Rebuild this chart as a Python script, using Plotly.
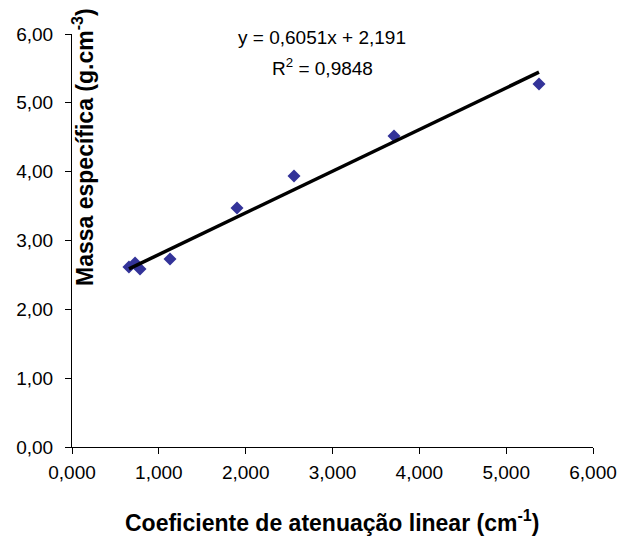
import plotly.graph_objects as go

x_vals = [0.656, 0.726, 0.783, 1.129, 1.900, 2.557, 3.708, 5.378]
y_vals = [2.615, 2.673, 2.586, 2.731, 3.472, 3.937, 4.518, 5.274]
slope = 0.6051
intercept = 2.191
x_ticks = [0, 1, 2, 3, 4, 5, 6]
y_ticks = [0, 1, 2, 3, 4, 5, 6]

x_fit = [min(x_vals), max(x_vals)]
y_fit = [slope * v + intercept for v in x_fit]

font = "Arial, Liberation Sans, sans-serif"

# plot area in pixels
L, R, T, B = 72, 593, 34, 447
W, H = 626, 538
pw, ph = R - L, B - T

def px(xp):
    return (xp - L) / pw

def py(yp):
    return (B - yp) / ph

fig = go.Figure()
fig.add_trace(go.Scatter(x=x_vals, y=y_vals, mode="markers",
                         marker=dict(symbol="diamond", size=10, color="#333399",
                                     line=dict(width=0)),
                         showlegend=False, cliponaxis=False))
fig.add_trace(go.Scatter(x=x_fit, y=y_fit, mode="lines",
                         line=dict(color="black", width=3.5), showlegend=False,
                         cliponaxis=False))

fig.update_layout(
    width=W, height=H,
    margin=dict(l=L, r=W - R, t=T, b=H - B, autoexpand=False),
    paper_bgcolor="white", plot_bgcolor="white",
    separators=",.",
    font=dict(family=font, size=19, color="black"),
    xaxis=dict(range=[0, 6], tickvals=x_ticks, tickformat=".3f",
               showline=True, linecolor="black", linewidth=1,
               ticks="outside", ticklen=6, tickcolor="black",
               ticklabelstandoff=2,
               showgrid=False, zeroline=False, automargin=False),
    yaxis=dict(range=[0, 6], tickvals=y_ticks, tickformat=".2f",
               showline=True, linecolor="black", linewidth=1,
               ticks="outside", ticklen=6, tickcolor="black",
               ticklabelstandoff=8,
               showgrid=False, zeroline=False, automargin=False),
    annotations=[
        dict(text="<b>Massa específica (g.cm<sup>-3</sup>)</b>", textangle=-90,
             xref="paper", yref="paper", x=px(83), y=py(147),
             xanchor="center", yanchor="middle", showarrow=False,
             font=dict(size=23)),
        dict(text="<b>Coeficiente de atenuação linear (cm<sup>-1</sup>)</b>",
             xref="paper", yref="paper", x=px(332), y=py(521),
             xanchor="center", yanchor="middle", showarrow=False,
             font=dict(size=23)),
        dict(text="y = 0,6051x + 2,191", xref="paper", yref="paper",
             x=px(322), y=py(38), xanchor="center", yanchor="middle",
             showarrow=False, font=dict(size=19)),
        dict(text="R<sup>2</sup> = 0,9848", xref="paper", yref="paper",
             x=px(322), y=py(67), xanchor="center", yanchor="middle",
             showarrow=False, font=dict(size=19)),
    ],
)

fig.write_html("out.html", config={"displayModeBar": False},
               post_script="document.body.style.margin='0';document.body.style.overflow='hidden';")
